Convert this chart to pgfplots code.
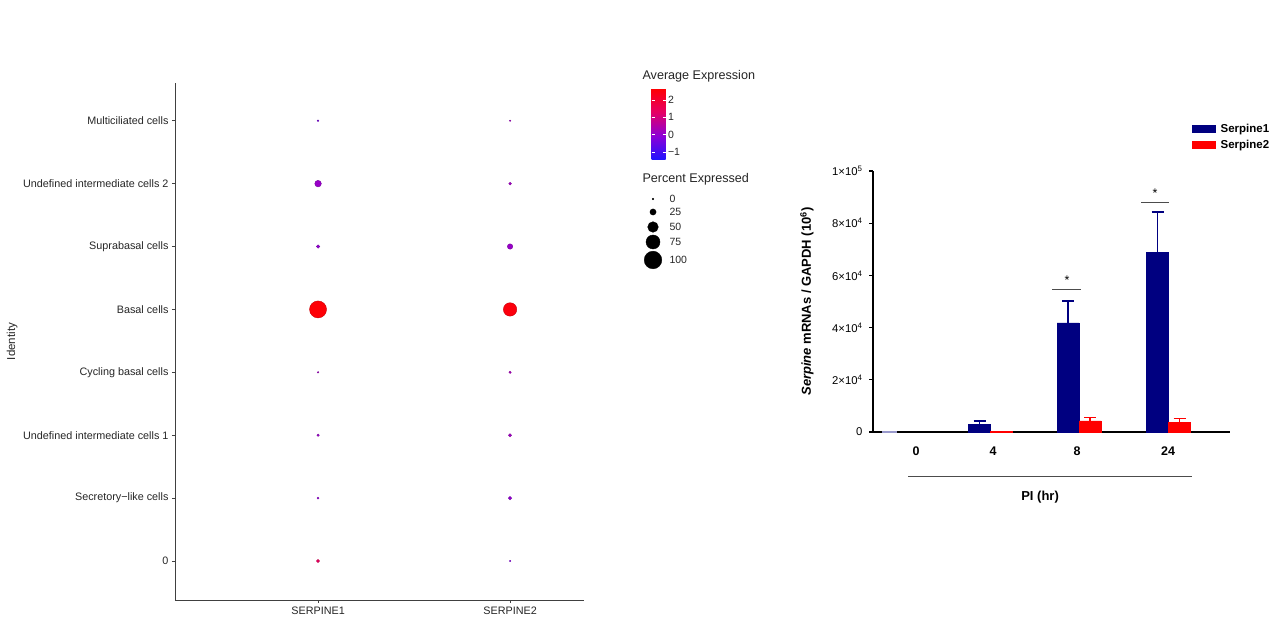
\documentclass[border=0pt]{standalone}
\usepackage{pgfplots}
\pgfplotsset{compat=1.18}
\usepackage{fontspec}
\setmainfont{Liberation Sans}
\usetikzlibrary{calc}
\definecolor{navybar}{RGB}{0,0,128}
\definecolor{redbar}{RGB}{255,0,0}
\begin{document}
\begin{tikzpicture}
\path[fill=white] (0pt,0pt) rectangle (1280pt,617pt);
% ---------------- Dot plot ----------------
\begin{axis}[
  name=dot, at={(175pt,17pt)}, anchor=south west,
  scale only axis, width=409pt, height=517pt,
  xmin=0.255, xmax=2.385, ymin=-0.62, ymax=7.6,
  axis x line*=bottom, axis y line*=left,
  axis line style={-, draw=black!75, line width=0.8pt},
  xtick={1,2}, xticklabels={SERPINE1,SERPINE2},
  ytick={0,1,2,3,4,5,6,7},
  yticklabels={0,Secretory−like cells,Undefined intermediate cells 1,Cycling basal cells,Basal cells,Suprabasal cells,Undefined intermediate cells 2,Multiciliated cells},
  tick style={draw=black!75, line width=0.6pt}, tick align=outside, major tick length=3pt,
  ticklabel style={font=\fontsize{10.8}{12}\selectfont, text=black!85},
  ylabel={Identity},
  ylabel style={font=\fontsize{11.5}{13}\selectfont, text=black!85, at={(axis description cs:-0.398,0.5)}, anchor=center},
  colormap={br}{rgb255=(30,20,255) rgb255=(140,0,215) rgb255=(230,0,100) rgb255=(255,0,0)},
  point meta min=-1.46, point meta max=2.69,
  colorbar,
  colorbar style={
    at={($(parent axis.north east)+(59pt,-5pt)$)}, anchor=north west,
    scale only axis, width=14pt, height=72pt,
    ytick={-1,0,1,2}, yticklabels={−1,0,1,2},
    yticklabel style={font=\fontsize{10.5}{12}\selectfont, text=black!85, xshift=-1pt},
    major tick style={draw=white, line width=0.5pt}, major tick length=3pt, tick align=inside,
    axis line style={draw=none},
  },
  clip=false,
]
\addplot[scatter, only marks, mark=*, point meta=explicit,
  visualization depends on={\thisrow{r} \as \rr},
  scatter/@pre marker code/.append style={/tikz/mark size=\rr}]
  table[x=x, y=y, meta=avg] {
x y r avg
1 7 0.8 -0.3
1 6 3.3 0.1
1 5 1.7 0.0
1 4 8.5 2.6
1 3 0.8 0.2
1 2 1.2 0.1
1 1 1.0 0.0
1 0 1.6 1.4
2 7 0.7 0.2
2 6 1.4 0.2
2 5 2.7 0.1
2 4 6.7 2.5
2 3 1.2 0.3
2 2 1.6 0.2
2 1 1.7 0.0
2 0 0.7 -0.2
};
\end{axis}
\node[anchor=west, font=\fontsize{12.6}{14}\selectfont, text=black!85] at (639pt,541pt) {Average Expression};
\node[anchor=west, font=\fontsize{12.6}{14}\selectfont, text=black!85] at (639pt,438pt) {Percent Expressed};
% ---------------- Size legend ----------------
\begin{axis}[
  at={(640pt,342pt)}, anchor=south west, scale only axis, width=40pt, height=80pt,
  xmin=0, xmax=40, ymin=0, ymax=80, hide axis, clip=false]
\addplot[scatter, only marks, mark=*, scatter/use mapped color={draw=black, fill=black},
  visualization depends on={\thisrow{r} \as \rr},
  scatter/@pre marker code/.append style={/tikz/mark size=\rr}]
  table[x=x, y=y] {
x y r
13 76 0.8
13 63 3.1
13 48 5.3
13 33 7.0
13 15 8.8
};
\node[anchor=west, font=\fontsize{10.5}{12}\selectfont, text=black!85] at (axis cs:26,76) {0};
\node[anchor=west, font=\fontsize{10.5}{12}\selectfont, text=black!85] at (axis cs:26,63) {25};
\node[anchor=west, font=\fontsize{10.5}{12}\selectfont, text=black!85] at (axis cs:26,48) {50};
\node[anchor=west, font=\fontsize{10.5}{12}\selectfont, text=black!85] at (axis cs:26,33) {75};
\node[anchor=west, font=\fontsize{10.5}{12}\selectfont, text=black!85] at (axis cs:26,15) {100};
\end{axis}
% ---------------- Bar chart ----------------
\begin{axis}[
  at={(873pt,185pt)}, anchor=south west, scale only axis, width=357pt, height=261pt,
  xmin=873, xmax=1230, ymin=0, ymax=100000,
  axis x line*=bottom, axis y line*=left,
  axis line style={-, draw=black, line width=1.4pt},
  xtick={916,993,1077,1168}, xticklabels={0,4,8,24},
  xticklabel style={font=\bfseries\fontsize{12.5}{14}\selectfont, yshift=-7pt},
  x tick style={draw=none},
  ytick={0,20000,40000,60000,80000,100000},
  yticklabels={0,2×10\textsuperscript{4},4×10\textsuperscript{4},6×10\textsuperscript{4},8×10\textsuperscript{4},1×10\textsuperscript{5}},
  yticklabel style={font=\fontsize{11.3}{12}\selectfont, xshift=-3pt},
  y tick style={draw=black, line width=1.2pt}, tick align=outside, major tick length=4pt,
  scaled y ticks=false,
  ylabel={\bfseries\itshape Serpine\upshape\ mRNAs / GAPDH (10\textsuperscript{6})},
  ylabel style={font=\fontsize{13}{15}\selectfont, at={(axis description cs:-0.185,0.5)}, anchor=center},
  xlabel={\bfseries PI (hr)},
  xlabel style={font=\fontsize{13}{15}\selectfont, at={(axis description cs:0.468,-0.249)}, anchor=center},
  legend style={at={(axis description cs:0.8936,1.188)}, anchor=north west, draw=none, fill=none,
    font=\bfseries\fontsize{11.5}{13}\selectfont, row sep=2pt, inner sep=0pt,
    /tikz/every odd column/.append style={column sep=3pt}},
  legend cell align=left,
  clip=false,
]
\addlegendimage{legend image code/.code={\fill[navybar] (0pt,-3.5pt) rectangle (23pt,3.5pt);}}
\addlegendentry{Serpine1}
\addlegendimage{legend image code/.code={\fill[redbar] (0pt,-3.5pt) rectangle (23pt,3.5pt);}}
\addlegendentry{Serpine2}
\addplot[ybar, bar width=22pt, bar shift=0pt, fill=navybar, draw=navybar, forget plot,
  error bars/.cd, y dir=plus, y explicit,
  error bar style={draw=navybar, line width=1.2pt},
  error mark options={rotate=90, mark size=6pt, draw=navybar, line width=1.2pt}]
  table[x=x, y=y, y error=e] {
x y e
979.5 3000 1200
1068 41800 8400
1157.5 68700 15600
};
\addplot[ybar, bar width=22pt, bar shift=0pt, fill=redbar, draw=redbar, forget plot,
  error bars/.cd, y dir=plus, y explicit,
  error bar style={draw=redbar, line width=1.2pt},
  error mark options={rotate=90, mark size=6pt, draw=redbar, line width=1.2pt}]
  table[x=x, y=y, y error=e] {
x y e
1001.5 300 0
1090 4300 1300
1179.5 3800 1300
};
\addplot[ybar, bar width=14pt, bar shift=0pt, fill=navybar!40, draw=navybar!40, forget plot]
  coordinates {(889,250)};
\draw[black!70, line width=0.6pt] (axis cs:1052,54790) -- (axis cs:1081,54790);
\draw[black!70, line width=0.6pt] (axis cs:1141,88120) -- (axis cs:1169,88120);
\node[anchor=base, font=\fontsize{12.5}{14}\selectfont] at (axis cs:1067,56500) {*};
\node[anchor=base, font=\fontsize{12.5}{14}\selectfont] at (axis cs:1155,89700) {*};
\draw[black!70, line width=0.6pt] (axis cs:908,-16860) -- (axis cs:1192,-16860);
\end{axis}
\end{tikzpicture}
\end{document}
